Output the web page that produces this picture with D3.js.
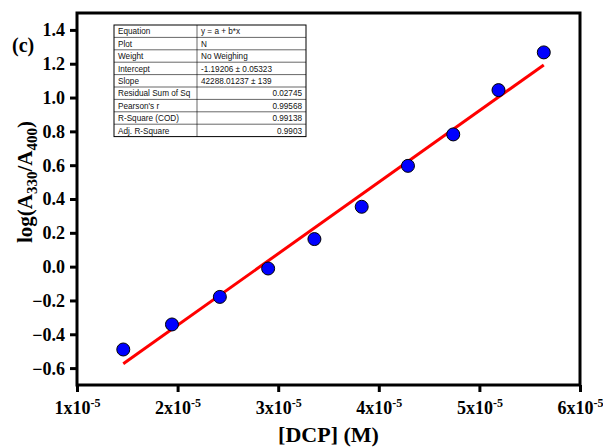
<!DOCTYPE html>
<html>
<head>
<meta charset="utf-8">
<script src="https://cdn.jsdelivr.net/npm/d3@7"></script>
<style>
  body { margin: 0; background: #fff; }
  svg { display: block; }
</style>
</head>
<body>
<div id="chart"></div>
<script>
// Width and height
var chart_width  = 603;
var chart_height = 448;
var margin = { left: 77, right: 23, top: 13, bottom: 63 };

// Data
var dcp_conc  = [1.46e-5, 1.944e-5, 2.42e-5, 2.90e-5, 3.36e-5, 3.83e-5, 4.29e-5, 4.74e-5, 5.19e-5, 5.64e-5];
var log_ratio = [-0.490, -0.342, -0.179, -0.011, 0.163, 0.354, 0.596, 0.782, 1.044, 1.267];

// Linear fit reported in the table
var fit_intercept = -1.19206;
var fit_slope     = 42288.01237;

var x_ticks = [1e-5, 2e-5, 3e-5, 4e-5, 5e-5, 6e-5];
var y_ticks = [-0.6, -0.4, -0.2, 0.0, 0.2, 0.4, 0.6, 0.8, 1.0, 1.2, 1.4];

var table_labels = ['Equation', 'Plot', 'Weight', 'Intercept', 'Slope',
                    'Residual Sum of Sq', "Pearson's r", 'R-Square (COD)', 'Adj. R-Square'];
var table_values = ['y = a + b*x', 'N', 'No Weighing', '-1.19206 \u00b1 0.05323', '42288.01237 \u00b1 139',
                    '0.02745', '0.99568', '0.99138', '0.9903'];

var x = d3.scaleLinear()
    .domain([1e-5, 6e-5])
    .range([margin.left, chart_width - margin.right]);

var y = d3.scaleLinear()
    .domain([-0.7, 1.5])
    .range([chart_height - margin.bottom, margin.top]);

var svg = d3.select('#chart')
    .append('svg')
    .attr('width', chart_width)
    .attr('height', chart_height);

var serif = '"Liberation Serif", "Times New Roman", serif';
var sans  = '"Liberation Sans", Arial, sans-serif';

// fit line
var x0 = dcp_conc[0], x1 = dcp_conc[dcp_conc.length - 1];
svg.append('line')
    .attr('x1', x(x0)).attr('y1', y(fit_intercept + fit_slope * x0))
    .attr('x2', x(x1)).attr('y2', y(fit_intercept + fit_slope * x1))
    .attr('stroke', '#ff0000')
    .attr('stroke-width', 3);

// points
svg.selectAll('circle.pt')
    .data(dcp_conc)
    .enter()
    .append('circle')
    .attr('class', 'pt')
    .attr('cx', (d) => x(d))
    .attr('cy', (d, i) => y(log_ratio[i]))
    .attr('r', 6.5)
    .attr('fill', '#0000ff')
    .attr('stroke', '#000')
    .attr('stroke-width', 1);

// axes
var x_axis = svg.append('g')
    .attr('transform', 'translate(0,' + (chart_height - margin.bottom) + ')')
    .call(d3.axisBottom(x).tickValues(x_ticks).tickSize(7).tickSizeOuter(0).tickFormat(''));
var y_axis = svg.append('g')
    .attr('transform', 'translate(' + margin.left + ',0)')
    .call(d3.axisLeft(y).tickValues(y_ticks).tickSize(7).tickSizeOuter(0)
        .tickFormat((d) => d3.format('.1f')(d)));

[x_axis, y_axis].forEach(function(g){
    g.attr('font-family', serif).attr('font-size', null);
    g.select('.domain').remove();
    g.selectAll('.tick line').attr('stroke', '#000').attr('stroke-width', 3);
});

y_axis.selectAll('.tick text')
    .attr('font-family', serif)
    .attr('font-weight', 'bold')
    .attr('font-size', 18)
    .attr('x', -12)
    .attr('dy', '0.33em')
    .attr('fill', '#000');

// x tick labels with superscript
x_axis.selectAll('.tick').each(function(d){
    var t = d3.select(this).append('text')
        .attr('y', 29)
        .attr('text-anchor', 'middle')
        .attr('font-family', serif)
        .attr('font-weight', 'bold')
        .attr('font-size', 18)
        .attr('fill', '#000');
    t.append('tspan').text(Math.round(d * 1e5) + 'x10');
    t.append('tspan').attr('dy', -7).attr('font-size', 12).text('-5');
});

// frame
svg.append('rect')
    .attr('x', margin.left)
    .attr('y', margin.top)
    .attr('width', chart_width - margin.left - margin.right)
    .attr('height', chart_height - margin.top - margin.bottom)
    .attr('fill', 'none')
    .attr('stroke', '#000')
    .attr('stroke-width', 3);

// axis titles
svg.append('text')
    .attr('x', (margin.left + chart_width - margin.right) / 2)
    .attr('y', 442)
    .attr('text-anchor', 'middle')
    .attr('font-family', serif)
    .attr('font-weight', 'bold')
    .attr('font-size', 22)
    .text('[DCP] (M)');

var ylab = svg.append('text')
    .attr('transform', 'translate(32,182) rotate(-90)')
    .attr('text-anchor', 'middle')
    .attr('font-family', serif)
    .attr('font-weight', 'bold')
    .attr('font-size', 21);
ylab.append('tspan').text('log(A');
ylab.append('tspan').attr('font-size', 15).attr('dy', 5).text('330');
ylab.append('tspan').attr('dy', -5).text('/A');
ylab.append('tspan').attr('font-size', 15).attr('dy', 5).text('400');
ylab.append('tspan').attr('dy', -5).text(')');

svg.append('text')
    .attr('x', 12)
    .attr('y', 52)
    .attr('font-family', serif)
    .attr('font-weight', 'bold')
    .attr('font-size', 20)
    .text('(c)');

// fit table
var tx = 114, ty = 25, row_h = 12.4, col1 = 83, col2 = 109;
var table = svg.append('g').attr('id', 'fit-table');
table.append('rect')
    .attr('x', tx).attr('y', ty)
    .attr('width', col1 + col2).attr('height', row_h * table_labels.length)
    .attr('fill', '#fff').attr('stroke', '#000').attr('stroke-width', 1);

table_labels.forEach(function(lab, i){
    var ry = ty + i * row_h;
    if (i > 0) {
        table.append('line')
            .attr('x1', tx).attr('x2', tx + col1 + col2)
            .attr('y1', ry).attr('y2', ry)
            .attr('stroke', '#000').attr('stroke-width', 0.6);
    }
    table.append('text')
        .attr('x', tx + 4).attr('y', ry + 9.3)
        .attr('font-family', sans).attr('font-size', 8.2)
        .attr('fill', '#111')
        .text(lab);
    var right = i >= 5;
    table.append('text')
        .attr('x', right ? tx + col1 + col2 - 4 : tx + col1 + 4)
        .attr('y', ry + 9.3)
        .attr('text-anchor', right ? 'end' : 'start')
        .attr('font-family', sans).attr('font-size', 8.2)
        .attr('fill', '#111')
        .text(table_values[i]);
});
table.append('line')
    .attr('x1', tx + col1).attr('x2', tx + col1)
    .attr('y1', ty).attr('y2', ty + row_h * table_labels.length)
    .attr('stroke', '#000').attr('stroke-width', 0.6);
</script>
</body>
</html>
